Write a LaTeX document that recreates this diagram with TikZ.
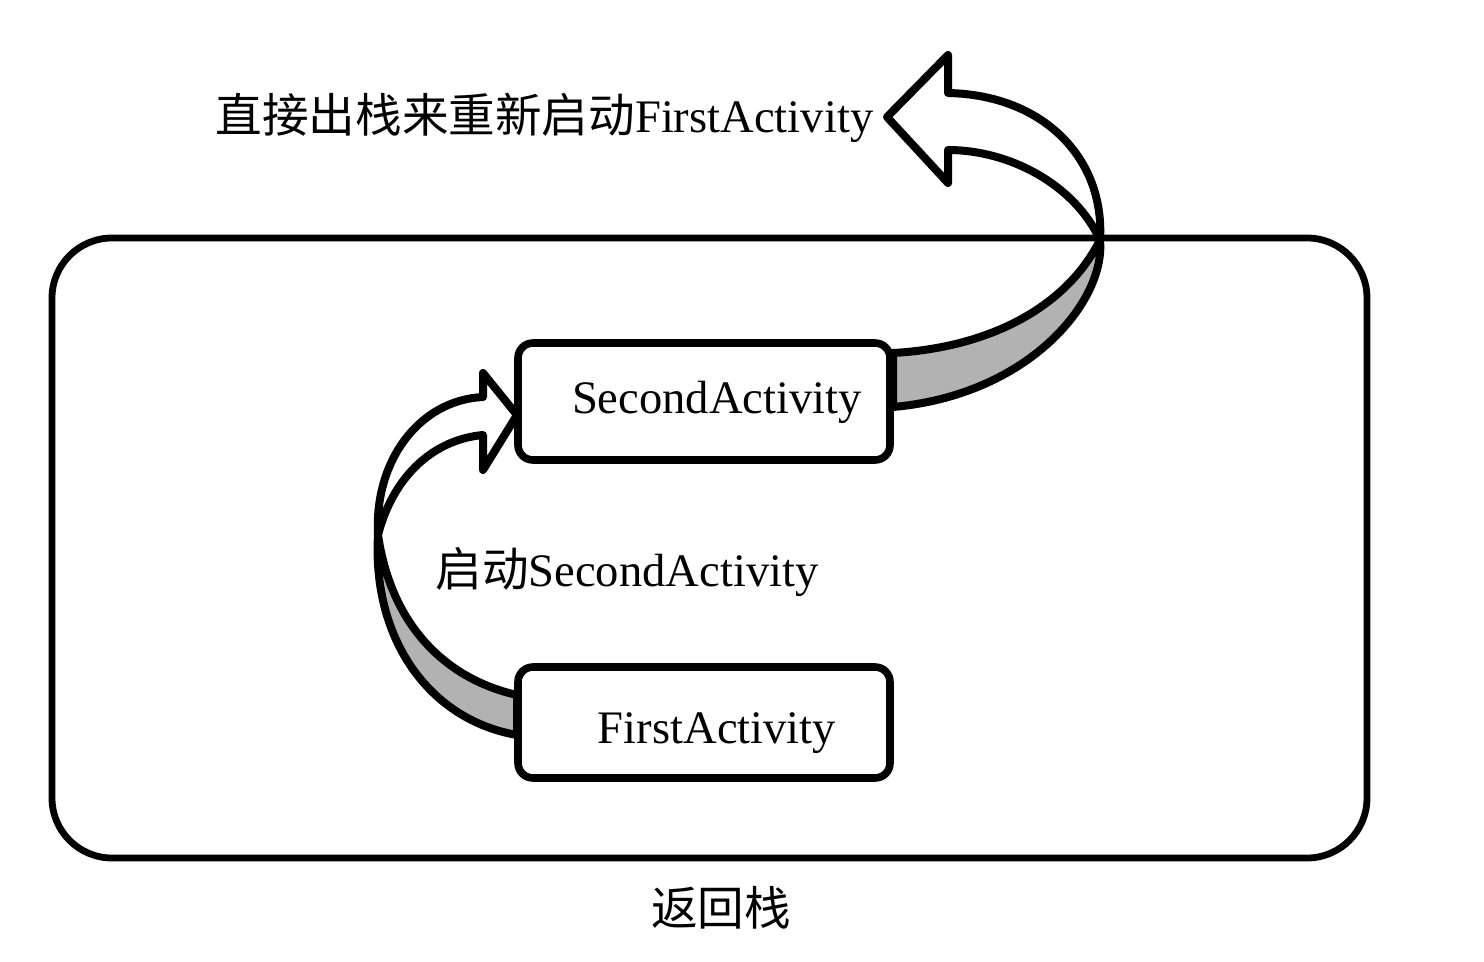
\documentclass[tikz,border=0pt]{standalone}
\usepackage{fontspec}
\setmainfont{Liberation Serif}
\newfontfamily\cjk{Noto Sans CJK SC}
\begin{document}
\begin{tikzpicture}[x=0.5pt,y=-0.5pt,
  stackbox/.style={draw=black,line width=3.4pt,rounded corners=30pt},
  actbox/.style={draw=black,line width=3.8pt,rounded corners=7.5pt,fill=white,
    minimum width=186pt,inner sep=0pt},
  lbl/.style={inner sep=0pt,font=\fontsize{23.3}{28}\selectfont},
  ribbon/.style={draw=black,line width=4pt,line join=round},
  under/.style={ribbon,fill=black!30},
  over/.style={ribbon,fill=white}]
\useasboundingbox (0,0) rectangle (1484,962);

% back stack frame
\node[stackbox,minimum width=657.5pt,minimum height=310pt,inner sep=0pt] (stack) at (709.5,548) {};
\node[lbl,anchor=center] (stacklbl) at (721,908) {\cjk 返回栈};

% activities
\node[actbox,minimum height=58.5pt] (second) at (704,401.5) {};
\node[lbl,anchor=base] (secondlbl) at (717,414) {SecondActivity};
\node[actbox,minimum height=55.5pt] (first) at (704,722.5) {};
\node[lbl,anchor=base] (firstlbl) at (717,743) {FirstActivity};

% captions
\node[lbl,anchor=base] (launchlbl) at (627,587) {{\cjk 启动}SecondActivity};
\node[lbl,anchor=base] (poplbl) at (544.5,133) {{\cjk 直接出栈来重新启动}FirstActivity};

% twisted ribbon arrow: SecondActivity -> out of the stack
\coordinate (t1) at (1100,240);
\path[under] (893,353) .. controls (985,348) and (1065,310) .. (t1)
  .. controls (1106,300) and (1030,395) .. (893,407) -- cycle;
\path[over] (t1) .. controls (1105,160) and (1045,95) .. (948,93)
  -- (948,55) -- (887,117) -- (948,183) -- (948,150)
  .. controls (1010,150) and (1075,185) .. (t1) -- cycle;

% twisted ribbon arrow: FirstActivity -> SecondActivity
\coordinate (t2) at (378,535);
\path[under] (517,695) .. controls (450,680) and (392,630) .. (t2)
  .. controls (372,640) and (430,720) .. (517,735) -- cycle;
\path[over] (t2) .. controls (374,460) and (420,400) .. (483,397)
  -- (483,373) -- (517,415) -- (483,470) -- (483,435)
  .. controls (430,440) and (392,480) .. (t2) -- cycle;
\end{tikzpicture}
\end{document}
